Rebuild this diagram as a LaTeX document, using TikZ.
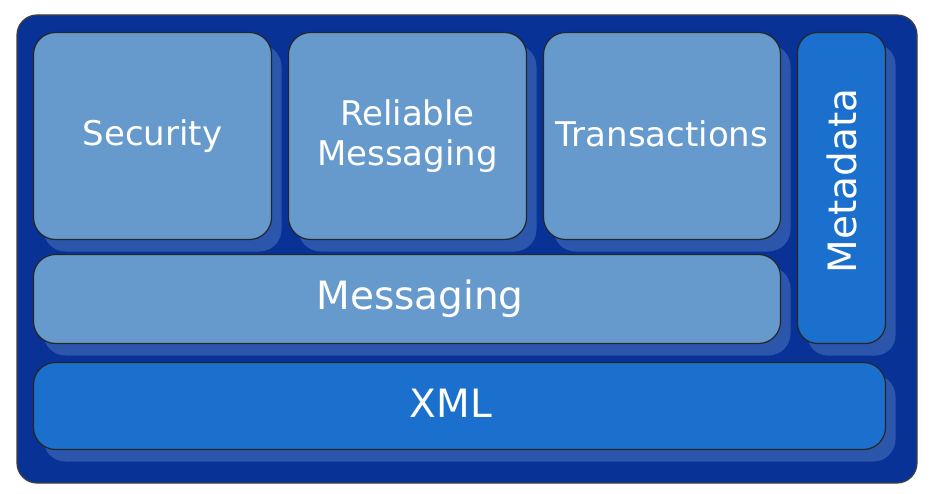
\documentclass[tikz,border=0pt]{standalone}
\usepackage{fontspec}
\setmainfont{DejaVu Sans}
\usepackage{tikz}
\usetikzlibrary{shadows}
\definecolor{framblue}{RGB}{8,50,150}
\definecolor{shadblue}{RGB}{44,86,172}
\definecolor{lightblue}{RGB}{102,153,204}
\definecolor{darkblue}{RGB}{26,112,204}
\tikzset{
  layer/.style={draw=black!85,line width=1.2pt,rounded corners=22pt,
    text=white,font=\fontsize{34}{40}\selectfont,align=center,inner sep=0pt,
    drop shadow={shadow xshift=10pt,shadow yshift=-12pt,fill=shadblue,opacity=1}},
  biglabel/.style={font=\fontsize{39}{46}\selectfont},
  litelayer/.style={layer,fill=lightblue},
  darklayer/.style={layer,fill=darkblue}
}
\begin{document}
\begin{tikzpicture}[line cap=round,line join=round,x=1pt,y=-1pt]
\useasboundingbox (0,0) rectangle (936,494);
%frame
\draw [fill=framblue,draw=black!75,line width=1.2pt,rounded corners=20pt] (17,15) rectangle (917,483);
%top row
\node[litelayer,minimum width=238pt,minimum height=207pt] (security) at (152.5,136) {\raisebox{3pt}{Security}};
\node[litelayer,minimum width=238pt,minimum height=207pt] (reliable) at (407.5,136) {Reliable\\Messaging};
\node[litelayer,minimum width=237pt,minimum height=207pt] (transactions) at (662,136) {\raisebox{4pt}{Transactions}};
%side column
\node[darklayer,biglabel,minimum width=88pt,minimum height=311pt,rounded corners=20pt] (metadata) at (841.5,188) {\rotatebox{90}{\hspace*{14pt}Metadata}};
%lower rows
\node[litelayer,biglabel,minimum width=747pt,minimum height=89pt] (messaging) at (407,299) {\hspace*{26pt}Messaging};
\node[darklayer,biglabel,minimum width=852pt,minimum height=87pt] (xml) at (459.5,406) {\raisebox{5pt}{XML}\hspace*{17pt}};
\end{tikzpicture}
\end{document}
